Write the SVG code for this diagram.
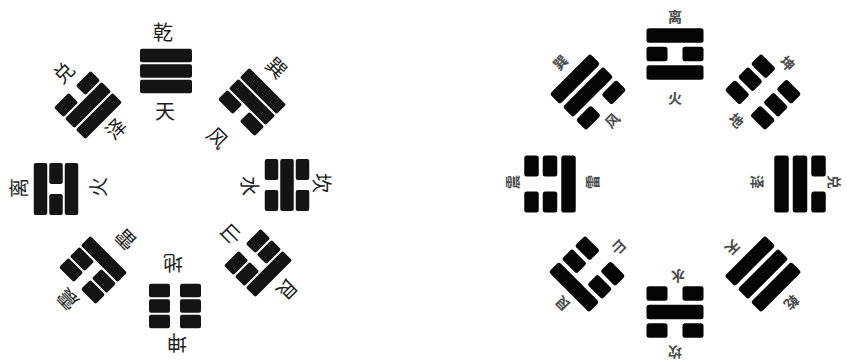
<svg xmlns="http://www.w3.org/2000/svg" xmlns:xlink="http://www.w3.org/1999/xlink" width="847" height="363" viewBox="0 0 847 363">
<style>
.bg{fill:#ffffff}
.bl{fill:#141414}
.br{fill:#050505}
.tl{font-family:"Noto Sans CJK SC","Noto Sans CJK JP",sans-serif;font-size:20px;fill:#1c1c1c;text-anchor:middle;dominant-baseline:central}
.tr{font-family:"Noto Sans CJK SC","Noto Sans CJK JP",sans-serif;font-size:14px;font-weight:bold;fill:#4a4a4a;text-anchor:middle;dominant-baseline:central}
</style>
<defs>
<rect id="ls" x="-26" y="-6.75" width="52" height="13.5" rx="2"/>
<g id="lb"><rect x="-26" y="-6.75" width="21" height="13.5" rx="2"/><rect x="5" y="-6.75" width="21" height="13.5" rx="2"/></g>
<rect id="rs" x="-28.5" y="-7.25" width="57" height="14.5" rx="2.5"/>
<g id="rb"><rect x="-28.5" y="-7.25" width="21" height="14.5" rx="2.5"/><rect x="7.5" y="-7.25" width="21" height="14.5" rx="2.5"/></g>
</defs>
<rect class="bg" x="0" y="0" width="847" height="363"/>

<g id="left-bagua" class="bl">
<g id="L-qian" transform="translate(166,71) rotate(0)"><use href="#ls" y="-15.5"/><use href="#ls" y="0"/><use href="#ls" y="15.5"/></g>
<g id="L-xun" transform="translate(252,102) rotate(45)"><use href="#ls" y="-15.5"/><use href="#ls" y="0"/><use href="#lb" y="15.5"/></g>
<g id="L-kan" transform="translate(287,185) rotate(90)"><use href="#lb" y="-15.5"/><use href="#ls" y="0"/><use href="#lb" y="15.5"/></g>
<g id="L-gen" transform="translate(258,263) rotate(135)"><use href="#ls" y="-15.5"/><use href="#lb" y="0"/><use href="#lb" y="15.5"/></g>
<g id="L-kun" transform="translate(175,306) rotate(180)"><use href="#lb" y="-15.5"/><use href="#lb" y="0"/><use href="#lb" y="15.5"/></g>
<g id="L-zhen" transform="translate(93,270) rotate(225)"><use href="#lb" y="-15.5"/><use href="#lb" y="0"/><use href="#ls" y="15.5"/></g>
<g id="L-li" transform="translate(56,189) rotate(270)"><use href="#ls" y="-15.5"/><use href="#lb" y="0"/><use href="#ls" y="15.5"/></g>
<g id="L-dui" transform="translate(88,105) rotate(315)"><use href="#lb" y="-15.5"/><use href="#ls" y="0"/><use href="#ls" y="15.5"/></g>
</g>

<g id="left-labels">
<text class="tl" transform="translate(163,31) rotate(0)">乾</text>
<text class="tl" transform="translate(165,110) rotate(0)">天</text>
<text class="tl" transform="translate(277,67) rotate(45)">巽</text>
<text class="tl" transform="translate(218,137) rotate(45)">风</text>
<text class="tl" transform="translate(322,183) rotate(90)">坎</text>
<text class="tl" transform="translate(250,186) rotate(90)">水</text>
<text class="tl" transform="translate(288,290) rotate(135)">艮</text>
<text class="tl" transform="translate(232,235) rotate(135)">山</text>
<text class="tl" transform="translate(177,343) rotate(180)">坤</text>
<text class="tl" transform="translate(173,263) rotate(180)">地</text>
<text class="tl" transform="translate(67,300) rotate(225)">震</text>
<text class="tl" transform="translate(125,240) rotate(225)">雷</text>
<text class="tl" transform="translate(18,188) rotate(270)">离</text>
<text class="tl" transform="translate(97,187) rotate(270)">火</text>
<text class="tl" transform="translate(63,72) rotate(315)">兑</text>
<text class="tl" transform="translate(115,128) rotate(315)">泽</text>
</g>

<g id="right-bagua" class="br">
<g id="R-li" transform="translate(675,54) rotate(0)"><use href="#rs" y="-18.5"/><use href="#rb" y="0"/><use href="#rs" y="18.5"/></g>
<g id="R-kun" transform="translate(763,92) rotate(45)"><use href="#rb" y="-18.5"/><use href="#rb" y="0"/><use href="#rb" y="18.5"/></g>
<g id="R-dui" transform="translate(800,184) rotate(90)"><use href="#rb" y="-18.5"/><use href="#rs" y="0"/><use href="#rs" y="18.5"/></g>
<g id="R-qian" transform="translate(763,274) rotate(135)"><use href="#rs" y="-18.5"/><use href="#rs" y="0"/><use href="#rs" y="18.5"/></g>
<g id="R-kan" transform="translate(675,312) rotate(180)"><use href="#rb" y="-18.5"/><use href="#rs" y="0"/><use href="#rb" y="18.5"/></g>
<g id="R-gen" transform="translate(587,274) rotate(225)"><use href="#rs" y="-18.5"/><use href="#rb" y="0"/><use href="#rb" y="18.5"/></g>
<g id="R-zhen" transform="translate(550,184) rotate(270)"><use href="#rb" y="-18.5"/><use href="#rb" y="0"/><use href="#rs" y="18.5"/></g>
<g id="R-xun" transform="translate(588,92) rotate(315)"><use href="#rs" y="-18.5"/><use href="#rs" y="0"/><use href="#rb" y="18.5"/></g>
</g>

<g id="right-labels">
<text class="tr" transform="translate(675,16) rotate(0)">离</text>
<text class="tr" transform="translate(675,97) rotate(0)">火</text>
<text class="tr" transform="translate(788,63) rotate(45)">坤</text>
<text class="tr" transform="translate(737,120) rotate(45)">地</text>
<text class="tr" transform="translate(835,182) rotate(90)">兑</text>
<text class="tr" transform="translate(758,182) rotate(90)">泽</text>
<text class="tr" transform="translate(792,303) rotate(135)">乾</text>
<text class="tr" transform="translate(733,248) rotate(135)">天</text>
<text class="tr" transform="translate(675,353) rotate(180)">坎</text>
<text class="tr" transform="translate(678,277) rotate(180)">水</text>
<text class="tr" transform="translate(562,304) rotate(225)">艮</text>
<text class="tr" transform="translate(618,248) rotate(225)">山</text>
<text class="tr" transform="translate(512,182) rotate(270)">震</text>
<text class="tr" transform="translate(592,182) rotate(270)">雷</text>
<text class="tr" transform="translate(560,62) rotate(315)">巽</text>
<text class="tr" transform="translate(612,120) rotate(315)">风</text>
</g>
</svg>
